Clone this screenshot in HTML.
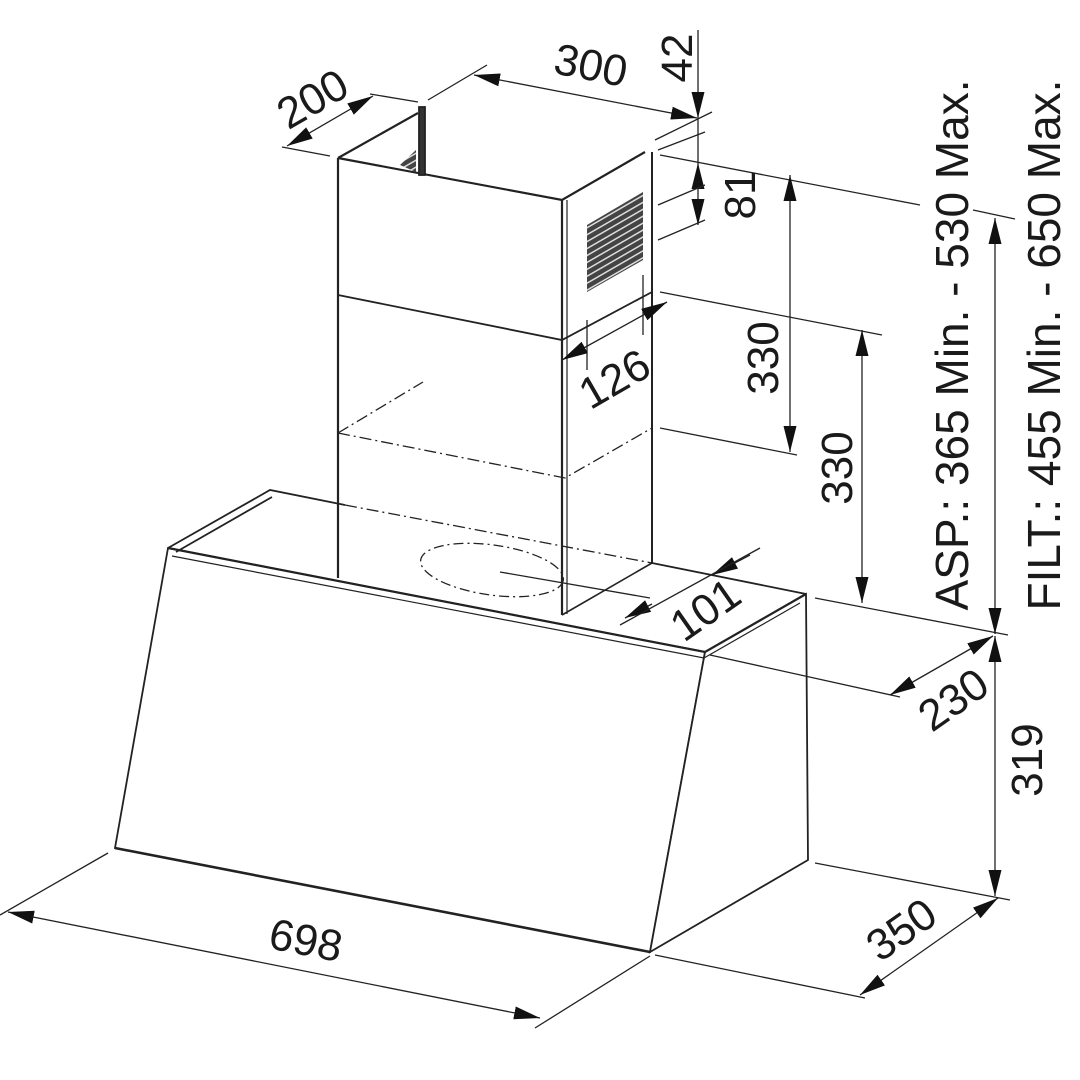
<!DOCTYPE html>
<html><head><meta charset="utf-8"><style>
html,body{margin:0;padding:0;background:#fff;}
svg{display:block;}
text{font-family:"Liberation Sans",Arial,sans-serif;fill:#1a1a1a;}
</style></head><body>
<svg width="1080" height="1080" viewBox="0 0 1080 1080" xmlns="http://www.w3.org/2000/svg">
<defs>
<marker id="a" viewBox="0 0 20 10" refX="20" refY="5" markerWidth="26" markerHeight="13" markerUnits="userSpaceOnUse" orient="auto-start-reverse"><path d="M0,0 L20,5 L0,10 z" fill="#111"/></marker>
<pattern id="g" width="6" height="6" patternUnits="userSpaceOnUse" patternTransform="rotate(-30)"><rect width="6" height="6" fill="#444"/><rect y="4" width="6" height="1.5" fill="#ddd"/></pattern>
</defs>
<g stroke="#222" stroke-width="1.8" fill="none">
<polygon points="168,548 705,652 650,952 115,848" fill="#fff"/>
<polygon points="705,652 806,594 808,860 650,952" fill="#fff"/>
<line x1="115" y1="848" x2="650" y2="952" stroke-width="2.6"/>
<path d="M168,548 L270,490 L345,505"/>
<path d="M176,552 L272,497"/>
<path d="M168,548 L705,652 L806,594" stroke-width="2.2"/>
<path d="M172,556 L704,658 L800,603" stroke-width="1.2"/>
<path d="M652,563 L806,594"/>
<path d="M345,505 L652,563" stroke-dasharray="12,4,2,4" stroke-width="1.3"/>
<ellipse cx="492" cy="570" rx="72" ry="25" transform="rotate(8 492 570)" stroke-dasharray="10,4,2,4" stroke-width="1.3"/>
<line x1="500" y1="572" x2="650" y2="598" stroke-width="1.3"/>
<path d="M338,158 L338,578" stroke-width="2.2"/>
<path d="M562,200 L562,615" stroke-width="2.2"/>
<path d="M567,200 L567,614" stroke-width="1.2"/>
<path d="M652,152 L652,563" stroke-width="2"/>
<path d="M562,615 L652,563" stroke-width="1.6"/>
<path d="M338,158 L562,200 L645,152" stroke-width="2.2"/>
<path d="M338,158 L418,113" stroke-width="2.2"/>
<rect x="419" y="107" width="6" height="68" fill="#333"/>
<path d="M400,165 L416,150 L416,172 Z" fill="url(#g)" stroke="none"/>
<path d="M338,295 L562,340 L652,292" stroke-width="1.8"/>
<path d="M338,433 L565,478 L652,428" stroke-dasharray="12,4,2,4" stroke-width="1.3"/>
<path d="M338,433 L423,382" stroke-dasharray="12,4,2,4" stroke-width="1.3"/>
</g>
<polygon points="587,225 643,192 643,260 587,292" fill="url(#g)"/>
<g stroke="#222" stroke-width="1.3" fill="none">
<line x1="108" y1="853" x2="0" y2="915"/>
<line x1="650" y1="956" x2="535" y2="1028"/>
<line x1="8" y1="912" x2="540" y2="1018" marker-start="url(#a)" marker-end="url(#a)"/>
<line x1="655" y1="955" x2="865" y2="998"/>
<line x1="815" y1="863" x2="1010" y2="900"/>
<line x1="860" y1="995" x2="998" y2="898" marker-start="url(#a)" marker-end="url(#a)"/>
<line x1="995" y1="636" x2="995" y2="896" marker-start="url(#a)" marker-end="url(#a)"/>
<line x1="710" y1="655" x2="900" y2="697"/>
<line x1="890" y1="695" x2="993" y2="636" marker-start="url(#a)" marker-end="url(#a)"/>
<line x1="815" y1="598" x2="1008" y2="635"/>
<line x1="995" y1="218" x2="995" y2="634" marker-start="url(#a)" marker-end="url(#a)"/>
<line x1="973" y1="210" x2="1015" y2="219"/>
<line x1="660" y1="155" x2="920" y2="205"/>
<line x1="790" y1="175" x2="790" y2="452" marker-start="url(#a)" marker-end="url(#a)"/>
<line x1="660" y1="428" x2="797" y2="455"/>
<line x1="862" y1="330" x2="862" y2="603" marker-start="url(#a)" marker-end="url(#a)"/>
<line x1="660" y1="292" x2="882" y2="335"/>
<line x1="698" y1="163" x2="698" y2="225" marker-start="url(#a)" marker-end="url(#a)"/>
<line x1="658" y1="150" x2="705" y2="132"/>
<line x1="658" y1="205" x2="705" y2="185"/>
<line x1="658" y1="240" x2="705" y2="220"/>
<line x1="698" y1="30" x2="698" y2="118" marker-end="url(#a)"/>
<line x1="698" y1="118" x2="698" y2="163"/>
<line x1="655" y1="140" x2="712" y2="112"/>
<line x1="428" y1="100" x2="487" y2="65"/>
<line x1="474" y1="75" x2="697" y2="118" marker-start="url(#a)" marker-end="url(#a)"/>
<line x1="282" y1="147" x2="330" y2="156"/>
<line x1="370" y1="94" x2="418" y2="102"/>
<line x1="287" y1="146" x2="373" y2="96" marker-start="url(#a)" marker-end="url(#a)"/>
<line x1="587" y1="320" x2="587" y2="370"/>
<line x1="643" y1="275" x2="643" y2="335"/>
<line x1="562" y1="360" x2="667" y2="302" marker-start="url(#a)" marker-end="url(#a)"/>
<line x1="625" y1="618" x2="652" y2="604" marker-start="url(#a)"/>
<line x1="750" y1="555" x2="712" y2="575" marker-end="url(#a)"/>
<line x1="620" y1="625" x2="760" y2="548"/>
</g>
<g font-size="44">
<text transform="translate(303,955) rotate(11)" text-anchor="middle">698</text>
<text transform="translate(910,942) rotate(-35)" text-anchor="middle">350</text>
<text transform="translate(1042,760) rotate(-90)" text-anchor="middle">319</text>
<text transform="translate(962,712) rotate(-35)" text-anchor="middle">230</text>
<text transform="translate(714,622) rotate(-35)" text-anchor="middle">101</text>
<text transform="translate(622,392) rotate(-30)" text-anchor="middle">126</text>
<text transform="translate(778,358) rotate(-90)" text-anchor="middle">330</text>
<text transform="translate(852,468) rotate(-90)" text-anchor="middle">330</text>
<text transform="translate(755,195) rotate(-90)" text-anchor="middle">81</text>
<text transform="translate(692,58) rotate(-90)" text-anchor="middle">42</text>
<text transform="translate(588,80) rotate(11)" text-anchor="middle">300</text>
<text transform="translate(320,112) rotate(-30)" text-anchor="middle">200</text>
</g>
<g font-size="46">
<text transform="translate(968,345) rotate(-90)" text-anchor="middle">ASP.: 365 Min. - 530 Max.</text>
<text transform="translate(1060,345) rotate(-90)" text-anchor="middle">FILT.: 455 Min. - 650 Max.</text>
</g>
</svg>
</body></html>
